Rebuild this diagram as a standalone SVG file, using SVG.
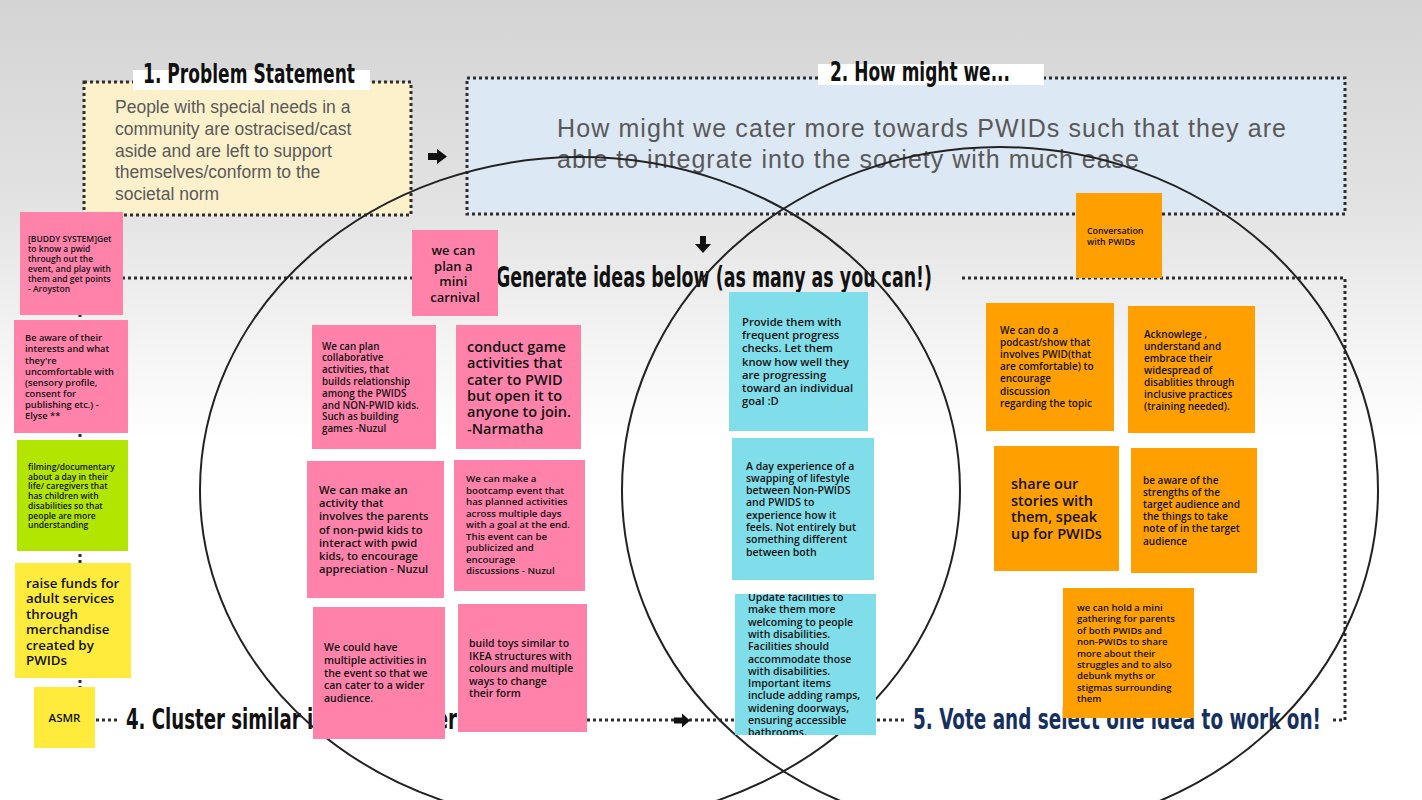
<svg xmlns="http://www.w3.org/2000/svg" width="1422" height="800" viewBox="0 0 1422 800">
<defs>
<linearGradient id="bg" x1="0" y1="0" x2="0" y2="1">
<stop offset="0" stop-color="#d4d4d4"/>
<stop offset="0.25" stop-color="#e2e2e2"/>
<stop offset="0.42" stop-color="#f3f3f3"/>
<stop offset="0.55" stop-color="#ffffff"/>
<stop offset="1" stop-color="#ffffff"/>
</linearGradient>
<clipPath id="clip15"><rect x="735" y="594" width="141" height="141"/></clipPath>
<style>
.dots{fill:none;stroke:#2e2e2e;stroke-width:3;stroke-dasharray:3 3}
.hand{font-family:"DejaVu Sans Condensed","DejaVu Sans",sans-serif;font-weight:bold;fill:#111}
.body{font-family:"Liberation Sans",Arial,sans-serif;fill:#595959}
.nt{font-family:"Open Sans","Noto Sans",sans-serif;font-weight:600;fill:#111}
.pink{fill:#ff82ab}
.cyan{fill:#80deea}
.orange{fill:#ff9f00}
.lime{fill:#b2e600}
.yellow{fill:#ffeb3b}
.venn{fill:none;stroke:#222;stroke-width:2}
.arrow{fill:#111}
</style>
</defs>
<rect x="0" y="0" width="1422" height="800" fill="url(#bg)"/>

<g id="problem-statement">
<rect x="84" y="82" width="327" height="133" fill="#fdf1cc"/>
<rect x="84" y="82" width="327" height="133" class="dots"/>
<rect x="133" y="70" width="237" height="20" fill="#fff"/>
<text class="hand" x="143" y="83" font-size="27" textLength="212" lengthAdjust="spacingAndGlyphs">1. Problem Statement</text>
<text class="body" font-size="17.5">
<tspan x="115" y="113">People with special needs in a</tspan>
<tspan x="115" y="135">community are ostracised/cast</tspan>
<tspan x="115" y="157">aside and are left to support</tspan>
<tspan x="115" y="178">themselves/conform to the</tspan>
<tspan x="115" y="200">societal norm</tspan>
</text>
</g>

<g id="how-might-we">
<rect x="467" y="78" width="878" height="136" fill="#dde8f5"/>
<rect x="467" y="78" width="878" height="136" class="dots"/>
<rect x="818" y="64" width="226" height="21" fill="#fff"/>
<text class="hand" x="830" y="81" font-size="27" textLength="180" lengthAdjust="spacingAndGlyphs">2. How might we...</text>
<text class="body" font-size="25">
<tspan x="557" y="137" textLength="729" lengthAdjust="spacing">How might we cater more towards PWIDs such that they are</tspan>
<tspan x="557" y="168" textLength="582" lengthAdjust="spacing">able to integrate into the society with much ease</tspan>
</text>
</g>

<g id="frame-ideas">
<path class="dots" d="M80,278 H412 M962,278 H1345 V720 M80,278 V720 M96,720 H120 M587,720 H735 M877,720 H905 M1333,720 H1345"/>
<text class="hand" x="496" y="287" font-size="29" textLength="436" lengthAdjust="spacingAndGlyphs">Generate ideas below (as many as you can!)</text>
</g>

<g id="label-cluster">
<text class="hand" x="126" y="729" font-size="28" textLength="331" lengthAdjust="spacingAndGlyphs">4. Cluster similar ideas together</text>
</g>
<g id="label-vote">
<text class="hand" x="913" y="729" font-size="28" textLength="408" lengthAdjust="spacingAndGlyphs" style="fill:#16305e">5. Vote and select one idea to work on!</text>
</g>

<g id="connectors">
<path class="arrow" d="M428,153 H437 V149 L447,156.5 L437,164 V160 H428 Z"/>
<path class="arrow" d="M700,236 H706 V244 H711 L703,253 L695,244 H700 Z"/>
<path class="arrow" d="M674,717.5 H682 V713.5 L690,720.5 L682,727.5 V723.5 H674 Z"/>
</g>

<g id="venn">
<ellipse class="venn" cx="580" cy="490" rx="380" ry="333"/>
<ellipse class="venn" cx="1000" cy="490" rx="378" ry="343"/>
</g>

<g id="note-buddy">
<rect class="pink" x="20" y="212" width="103" height="103"/>
<text class="nt" font-size="8.5">
<tspan x="28" y="242">[BUDDY SYSTEM]Get</tspan>
<tspan x="28" y="252">to know a pwid</tspan>
<tspan x="28" y="262">through out the</tspan>
<tspan x="28" y="272">event, and play with</tspan>
<tspan x="28" y="282">them and get points</tspan>
<tspan x="28" y="292">- Aroyston</tspan>
</text>
</g>

<g id="note-aware">
<rect class="pink" x="14" y="320" width="114" height="113"/>
<text class="nt" font-size="9.3">
<tspan x="25" y="341">Be aware of their</tspan>
<tspan x="25" y="352">interests and what</tspan>
<tspan x="25" y="363.5">they're</tspan>
<tspan x="25" y="375">uncomfortable with</tspan>
<tspan x="25" y="386">(sensory profile,</tspan>
<tspan x="25" y="396.5">consent for</tspan>
<tspan x="25" y="407.5">publishing etc.) -</tspan>
<tspan x="25" y="418.5">Elyse **</tspan>
</text>
</g>

<g id="note-filming">
<rect class="lime" x="17" y="440" width="111" height="111"/>
<text class="nt" font-size="8.5">
<tspan x="28" y="470">filming/documentary</tspan>
<tspan x="28" y="479.7">about a day in their</tspan>
<tspan x="28" y="489.4">life/ caregivers that</tspan>
<tspan x="28" y="499.1">has children with</tspan>
<tspan x="28" y="508.8">disabilities so that</tspan>
<tspan x="28" y="518.5">people are more</tspan>
<tspan x="28" y="528.2">understanding</tspan>
</text>
</g>

<g id="note-funds">
<rect class="yellow" x="15" y="563" width="116" height="115"/>
<text class="nt" font-size="13.3" font-weight="bold">
<tspan x="26" y="588">raise funds for</tspan>
<tspan x="26" y="603">adult services</tspan>
<tspan x="26" y="618.5">through</tspan>
<tspan x="26" y="634">merchandise</tspan>
<tspan x="26" y="649.5">created by</tspan>
<tspan x="26" y="665">PWIDs</tspan>
</text>
</g>

<g id="note-asmr">
<rect class="yellow" x="34" y="687" width="61" height="61"/>
<text class="nt" font-size="11.5" text-anchor="middle" x="64.5" y="722">ASMR</text>
</g>

<g id="note-carnival">
<rect class="pink" x="412" y="230" width="86" height="86"/>
<text class="nt" font-size="13" text-anchor="middle">
<tspan x="455" y="255">we can</tspan>
<tspan x="455" y="271">plan a</tspan>
<tspan x="455" y="286">mini</tspan>
<tspan x="455" y="302">carnival</tspan>
</text>
</g>

<g id="note-collab">
<rect class="pink" x="312" y="325" width="124" height="124"/>
<text class="nt" font-size="9.8">
<tspan x="322" y="349.5">We can plan</tspan>
<tspan x="322" y="361.3">collaborative</tspan>
<tspan x="322" y="373.1">activities, that</tspan>
<tspan x="322" y="384.9">builds relationship</tspan>
<tspan x="322" y="396.7">among the PWIDS</tspan>
<tspan x="322" y="408.5">and NON-PWID kids.</tspan>
<tspan x="322" y="420.3">Such as building</tspan>
<tspan x="322" y="432.1">games -Nuzul</tspan>
</text>
</g>

<g id="note-game">
<rect class="pink" x="456" y="325" width="125" height="124"/>
<text class="nt" font-size="14.5">
<tspan x="467" y="352">conduct game</tspan>
<tspan x="467" y="368.3">activities that</tspan>
<tspan x="467" y="384.6">cater to PWID</tspan>
<tspan x="467" y="400.9">but open it to</tspan>
<tspan x="467" y="417.2">anyone to join.</tspan>
<tspan x="467" y="433.5">-Narmatha</tspan>
</text>
</g>

<g id="note-parents">
<rect class="pink" x="307" y="461" width="137" height="137"/>
<text class="nt" font-size="11.2">
<tspan x="319" y="494">We can make an</tspan>
<tspan x="319" y="507.2">activity that</tspan>
<tspan x="319" y="520.4">involves the parents</tspan>
<tspan x="319" y="533.6">of non-pwid kids to</tspan>
<tspan x="319" y="546.8">interact with pwid</tspan>
<tspan x="319" y="560">kids, to encourage</tspan>
<tspan x="319" y="573.2">appreciation - Nuzul</tspan>
</text>
</g>

<g id="note-bootcamp">
<rect class="pink" x="454" y="460" width="131" height="131"/>
<text class="nt" font-size="9.7">
<tspan x="466" y="482">We can make a</tspan>
<tspan x="466" y="493.5">bootcamp event that</tspan>
<tspan x="466" y="505">has planned activities</tspan>
<tspan x="466" y="516.5">across multiple days</tspan>
<tspan x="466" y="528">with a goal at the end.</tspan>
<tspan x="466" y="539.5">This event can be</tspan>
<tspan x="466" y="551">publicized and</tspan>
<tspan x="466" y="562.5">encourage</tspan>
<tspan x="466" y="574">discussions - Nuzul</tspan>
</text>
</g>

<g id="note-multiple">
<rect class="pink" x="313" y="607" width="132" height="132"/>
<text class="nt" font-size="10.5">
<tspan x="324" y="651">We could have</tspan>
<tspan x="324" y="663.8">multiple activities in</tspan>
<tspan x="324" y="676.6">the event so that we</tspan>
<tspan x="324" y="689.4">can cater to a wider</tspan>
<tspan x="324" y="702.2">audience.</tspan>
</text>
</g>

<g id="note-toys">
<rect class="pink" x="458" y="604" width="129" height="128"/>
<text class="nt" font-size="10.5">
<tspan x="469" y="647">build toys similar to</tspan>
<tspan x="469" y="659.5">IKEA structures with</tspan>
<tspan x="469" y="672">colours and multiple</tspan>
<tspan x="469" y="684.5">ways to change</tspan>
<tspan x="469" y="697">their form</tspan>
</text>
</g>

<g id="note-progress">
<rect class="cyan" x="729" y="292" width="139" height="139"/>
<text class="nt" font-size="11.2">
<tspan x="742" y="326">Provide them with</tspan>
<tspan x="742" y="339.2">frequent progress</tspan>
<tspan x="742" y="352.4">checks. Let them</tspan>
<tspan x="742" y="365.6">know how well they</tspan>
<tspan x="742" y="378.8">are progressing</tspan>
<tspan x="742" y="392">toward an individual</tspan>
<tspan x="742" y="405.2">goal :D</tspan>
</text>
</g>

<g id="note-swap">
<rect class="cyan" x="732" y="438" width="142" height="142"/>
<text class="nt" font-size="10.5">
<tspan x="746" y="469.5">A day experience of a</tspan>
<tspan x="746" y="481.8">swapping of lifestyle</tspan>
<tspan x="746" y="494.1">between Non-PWIDS</tspan>
<tspan x="746" y="506.4">and PWIDS to</tspan>
<tspan x="746" y="518.7">experience how it</tspan>
<tspan x="746" y="531">feels. Not entirely but</tspan>
<tspan x="746" y="543.3">something different</tspan>
<tspan x="746" y="555.6">between both</tspan>
</text>
</g>

<g id="note-facilities">
<rect class="cyan" x="735" y="594" width="141" height="141"/>
<g clip-path="url(#clip15)">
<text class="nt" font-size="10.5">
<tspan x="748" y="601">Update facilities to</tspan>
<tspan x="748" y="613.3">make them more</tspan>
<tspan x="748" y="625.6">welcoming to people</tspan>
<tspan x="748" y="637.9">with disabilities.</tspan>
<tspan x="748" y="650.2">Facilities should</tspan>
<tspan x="748" y="662.5">accommodate those</tspan>
<tspan x="748" y="674.8">with disabilities.</tspan>
<tspan x="748" y="687.1">Important items</tspan>
<tspan x="748" y="699.4">include adding ramps,</tspan>
<tspan x="748" y="711.7">widening doorways,</tspan>
<tspan x="748" y="724">ensuring accessible</tspan>
<tspan x="748" y="736.3">bathrooms.</tspan>
</text>
</g>
</g>

<g id="note-conversation">
<rect class="orange" x="1076" y="193" width="86" height="85"/>
<text class="nt" font-size="8.8">
<tspan x="1087" y="234">Conversation</tspan>
<tspan x="1087" y="245">with PWIDs</tspan>
</text>
</g>

<g id="note-podcast">
<rect class="orange" x="986" y="303" width="128" height="128"/>
<text class="nt" font-size="10">
<tspan x="1000" y="333.5">We can do a</tspan>
<tspan x="1000" y="345.7">podcast/show that</tspan>
<tspan x="1000" y="357.9">involves PWID(that</tspan>
<tspan x="1000" y="370.1">are comfortable) to</tspan>
<tspan x="1000" y="382.3">encourage</tspan>
<tspan x="1000" y="394.5">discussion</tspan>
<tspan x="1000" y="406.7">regarding the topic</tspan>
</text>
</g>

<g id="note-acknowledge">
<rect class="orange" x="1128" y="306" width="127" height="127"/>
<text class="nt" font-size="10">
<tspan x="1144" y="337.5">Acknowlege ,</tspan>
<tspan x="1144" y="349.5">understand and</tspan>
<tspan x="1144" y="361.5">embrace their</tspan>
<tspan x="1144" y="373.5">widespread of</tspan>
<tspan x="1144" y="385.5">disablities through</tspan>
<tspan x="1144" y="397.5">inclusive practices</tspan>
<tspan x="1144" y="409.5">(training needed).</tspan>
</text>
</g>

<g id="note-stories">
<rect class="orange" x="994" y="446" width="125" height="125"/>
<text class="nt" font-size="14.5">
<tspan x="1011" y="489">share our</tspan>
<tspan x="1011" y="505.7">stories with</tspan>
<tspan x="1011" y="522.4">them, speak</tspan>
<tspan x="1011" y="539.1">up for PWIDs</tspan>
</text>
</g>

<g id="note-strengths">
<rect class="orange" x="1131" y="448" width="126" height="125"/>
<text class="nt" font-size="10">
<tspan x="1143" y="483.5">be aware of the</tspan>
<tspan x="1143" y="495.7">strengths of the</tspan>
<tspan x="1143" y="507.9">target audience and</tspan>
<tspan x="1143" y="520.1">the things to take</tspan>
<tspan x="1143" y="532.3">note of in the target</tspan>
<tspan x="1143" y="544.5">audience</tspan>
</text>
</g>

<g id="note-gathering">
<rect class="orange" x="1063" y="588" width="131" height="130"/>
<text class="nt" font-size="9.5">
<tspan x="1077" y="611">we can hold a mini</tspan>
<tspan x="1077" y="622.4">gathering for parents</tspan>
<tspan x="1077" y="633.8">of both PWIDs and</tspan>
<tspan x="1077" y="645.2">non-PWIDs to share</tspan>
<tspan x="1077" y="656.6">more about their</tspan>
<tspan x="1077" y="668">struggles and to also</tspan>
<tspan x="1077" y="679.4">debunk myths or</tspan>
<tspan x="1077" y="690.8">stigmas surrounding</tspan>
<tspan x="1077" y="702.2">them</tspan>
</text>
</g>
</svg>
